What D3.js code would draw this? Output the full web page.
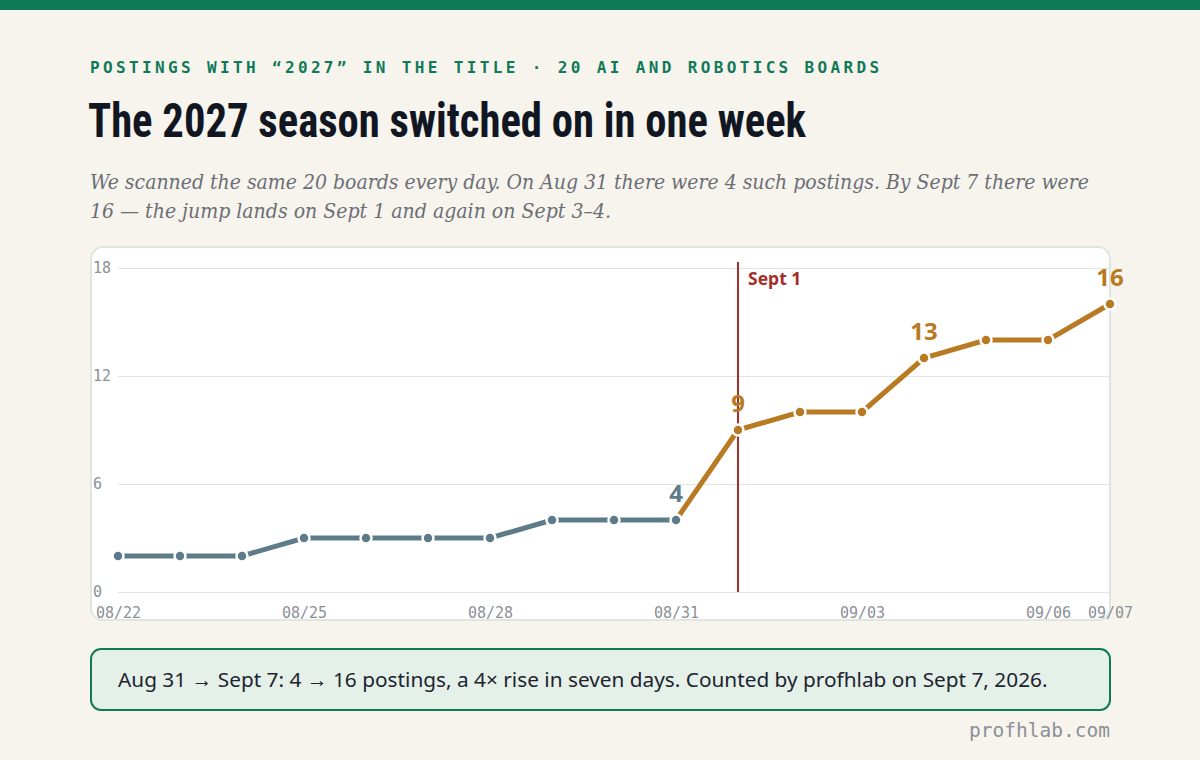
<!DOCTYPE html>
<html lang="en">
<head>
    <meta charset="UTF-8">
    <title>The 2027 season switched on in one week</title>
    <script src="https://d3js.org/d3.v7.min.js"></script>
    <style>
        body { margin: 0; background: #f7f4ee; }
        svg { display: block; }
    </style>
</head>
<body>

<div id="chart"></div>

<script>
    // daily counts, 20 boards
    var days = ["2026-08-22", "2026-08-23", "2026-08-24", "2026-08-25", "2026-08-26", "2026-08-27",
                "2026-08-28", "2026-08-29", "2026-08-30", "2026-08-31", "2026-09-01", "2026-09-02",
                "2026-09-03", "2026-09-04", "2026-09-05", "2026-09-06", "2026-09-07"];
    var postings = [2, 2, 2, 3, 3, 3, 3, 4, 4, 4, 9, 10, 10, 13, 14, 14, 16];
    var xTickDays = ["2026-08-22", "2026-08-25", "2026-08-28", "2026-08-31", "2026-09-03", "2026-09-06", "2026-09-07"];
    var yTicks = [0, 6, 12, 18];
    var labelDays = ["2026-08-31", "2026-09-01", "2026-09-04", "2026-09-07"];
    var splitDay = "2026-08-31";
    var markerDay = "2026-09-01";
    var markerLabel = "Sept 1";

    var kicker = "POSTINGS WITH \u201C2027\u201D IN THE TITLE \u00B7 20 AI AND ROBOTICS BOARDS";
    var title = "The 2027 season switched on in one week";
    var subtitle = ["We scanned the same 20 boards every day. On Aug 31 there were 4 such postings. By Sept 7 there were",
                    "16 \u2014 the jump lands on Sept 1 and again on Sept 3\u20134."];
    var note = "Aug 31 \u2192 Sept 7: 4 \u2192 16 postings, a 4\u00D7 rise in seven days. Counted by profhlab on Sept 7, 2026.";
    var credit = "profhlab.com";

    var green = "#107a58", before = "#5e7b89", after = "#b87a22", red = "#a3302b";
    var mono = "'DejaVu Sans Mono', monospace";
    var sans = "'Noto Sans', 'Open Sans', sans-serif";

    var W = 1200, H = 760;
    var margin = {top: 268, right: 90, bottom: 168, left: 118},
        width = W - margin.left - margin.right,
        height = H - margin.top - margin.bottom;

    var parse = d3.timeParse("%Y-%m-%d");
    var data = days.map(function(d, i) { return {date: parse(d), key: d, value: postings[i]}; });

    var svg = d3.select("#chart").append("svg")
        .attr("width", W)
        .attr("height", H);

    svg.append("rect").attr("width", W).attr("height", 10).attr("fill", green);

    // header
    svg.append("text")
        .attr("x", 90).attr("y", 73)
        .attr("fill", green)
        .style("font", "bold 16px " + mono)
        .style("letter-spacing", "3.36px")
        .text(kicker);

    svg.append("text")
        .attr("x", 88).attr("y", 137)
        .attr("fill", "#111722")
        .attr("textLength", 718)
        .attr("lengthAdjust", "spacingAndGlyphs")
        .style("font-family", "'Roboto Condensed', 'Liberation Sans Narrow', 'DejaVu Sans Condensed', sans-serif")
        .style("font-weight", "bold")
        .style("font-size", "49px")
        .text(title);

    var subLen = [999, 521];
    svg.append("g").selectAll("text")
        .data(subtitle)
        .enter().append("text")
        .attr("x", 90)
        .attr("y", function(d, i) { return 189 + i * 29; })
        .attr("fill", "#6b6e74")
        .attr("textLength", function(d, i) { return subLen[i]; })
        .attr("lengthAdjust", "spacingAndGlyphs")
        .style("font", "italic 21px 'DejaVu Serif Condensed', 'Liberation Serif', serif")
        .text(function(d) { return d; });

    // chart panel
    svg.append("rect")
        .attr("x", 91).attr("y", 247)
        .attr("width", 1019).attr("height", 373)
        .attr("rx", 12)
        .attr("fill", "#fff")
        .attr("stroke", "#dfe5df")
        .attr("stroke-width", 2);

    var g = svg.append("g")
        .attr("transform", "translate(" + margin.left + "," + margin.top + ")");

    var x = d3.scaleTime()
        .domain(d3.extent(data, function(d) { return d.date; }))
        .range([0, width]);

    var y = d3.scaleLinear()
        .domain([0, 18])
        .range([height, 0]);

    // Y axis + grid
    var yAxis = g.append("g")
        .call(d3.axisLeft(y).tickValues(yTicks).tickSize(-width));
    yAxis.select(".domain").remove();
    yAxis.selectAll("line").attr("stroke", "#e1e6e1");
    yAxis.selectAll("text")
        .attr("x", -25)
        .attr("text-anchor", "start")
        .attr("fill", "#8c9096")
        .style("font", "15px " + mono);

    // X axis
    var xAxis = g.append("g")
        .attr("transform", "translate(0," + height + ")")
        .call(d3.axisBottom(x)
            .tickValues(xTickDays.map(parse))
            .tickFormat(d3.timeFormat("%m/%d"))
            .tickSize(0)
            .tickPadding(15));
    xAxis.select(".domain").remove();
    xAxis.selectAll("text")
        .attr("fill", "#8c9096")
        .style("font", "15px " + mono);

    // Sept 1 marker
    var mx = x(parse(markerDay));
    g.append("line")
        .attr("x1", mx).attr("x2", mx)
        .attr("y1", -6).attr("y2", height)
        .attr("stroke", red)
        .attr("stroke-width", 2);
    g.append("text")
        .attr("x", mx + 10).attr("y", 17)
        .attr("fill", red)
        .style("font", "bold 17.5px " + sans)
        .text(markerLabel);

    // lines
    var line = d3.line()
        .x(function(d) { return x(d.date); })
        .y(function(d) { return y(d.value); });

    var split = days.indexOf(splitDay);
    g.append("path")
        .datum(data.slice(0, split + 1))
        .attr("fill", "none")
        .attr("stroke", before)
        .attr("stroke-width", 5)
        .attr("d", line);
    g.append("path")
        .datum(data.slice(split))
        .attr("fill", "none")
        .attr("stroke", after)
        .attr("stroke-width", 5)
        .attr("d", line);

    // dots
    g.append("g")
        .selectAll("circle")
        .data(data)
        .enter()
        .append("circle")
        .attr("cx", function(d) { return x(d.date); })
        .attr("cy", function(d) { return y(d.value); })
        .attr("r", 5.5)
        .attr("fill", function(d, i) { return i <= split ? before : after; })
        .attr("stroke", "#fff")
        .attr("stroke-width", 2.5);

    // value labels
    g.append("g")
        .selectAll("text")
        .data(data.filter(function(d) { return labelDays.indexOf(d.key) > -1; }))
        .enter()
        .append("text")
        .attr("x", function(d) { return x(d.date); })
        .attr("y", function(d) { return y(d.value) - 18; })
        .attr("text-anchor", "middle")
        .attr("fill", function(d) { return days.indexOf(d.key) <= split ? before : after; })
        .style("font", "bold 24px " + sans)
        .text(function(d) { return d.value; });

    // takeaway box
    svg.append("rect")
        .attr("x", 91).attr("y", 649)
        .attr("width", 1019).attr("height", 61)
        .attr("rx", 10)
        .attr("fill", "#e4f0e8")
        .attr("stroke", green)
        .attr("stroke-width", 2);
    svg.append("text")
        .attr("x", 118).attr("y", 687)
        .attr("fill", "#1d2430")
        .style("font", "20.8px " + sans)
        .text(note);

    svg.append("text")
        .attr("x", 1110).attr("y", 737)
        .attr("text-anchor", "end")
        .attr("fill", "#8c9096")
        .style("font", "19.5px " + mono)
        .text(credit);
</script>

</body>
</html>
